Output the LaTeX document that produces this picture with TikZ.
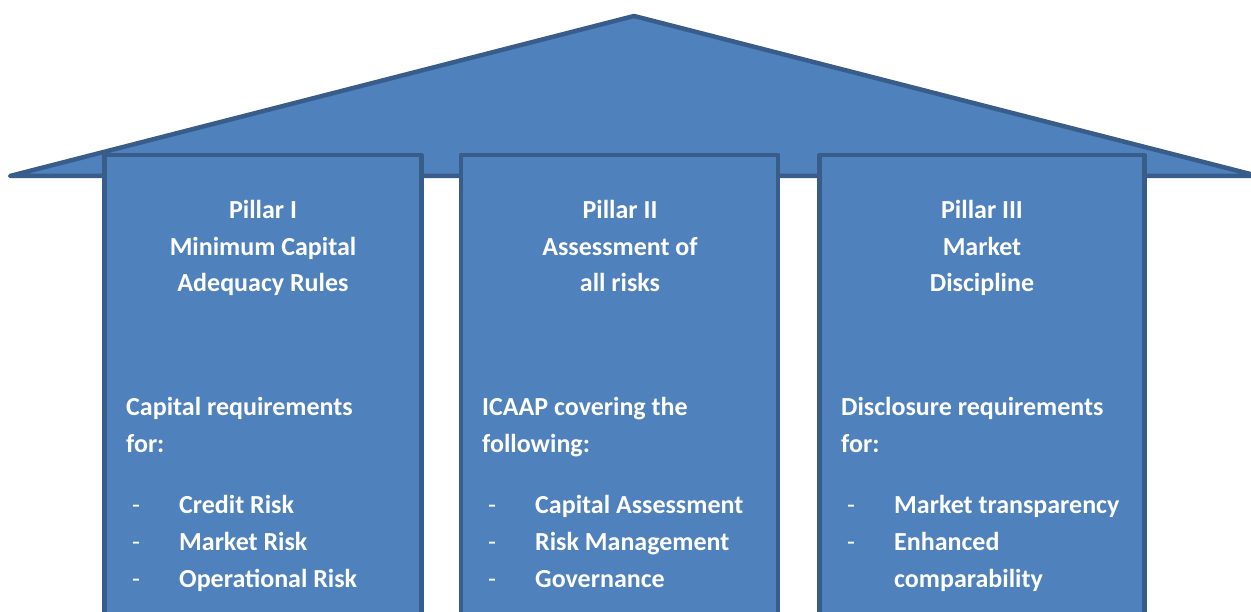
\documentclass[tikz,border=0pt]{standalone}
\usepackage{fontspec}
\setmainfont{Carlito}
\definecolor{pillarblue}{RGB}{79,129,189}
\definecolor{pillaredge}{RGB}{56,93,138}

\begin{document}
\begin{tikzpicture}[x=1pt,y=-1pt,
    every node/.style={text=white, inner sep=0pt, font=\bfseries\fontsize{26}{36.6}\selectfont},
    block/.style={draw=pillaredge, fill=pillarblue, line width=4.5pt, line join=round, line cap=round},
    heading/.style={anchor=base, align=center},
    body/.style={anchor=base west, align=left},
    dashes/.style={anchor=base west, align=left, font=\mdseries\fontsize{26}{36.6}\selectfont}]
    \useasboundingbox (0,0) rectangle (1251,612);
    \clip (0,0) rectangle (1251,612);
    % roof
    \draw[block] (10,176) -- (634,16) -- (1258,176) -- cycle;
    % pillars
    \draw[block] (104.5,155) rectangle (421.5,660);
    \draw[block] (461,155) rectangle (778,660);
    \draw[block] (819.5,155) rectangle (1144.5,660);
    % Pillar I
    \node[heading] (headone) at (263,292) {Pillar I\\Minimum Capital\\Adequacy Rules};
    \node[body] (bodyone) at (126,452) {Capital requirements\\for:};
    \node[dashes] (dashone) at (132,587) {-\\-\\-};
    \node[body] (itemsone) at (179,587) {Credit Risk\\Market Risk\\Operational Risk};
    % Pillar II
    \node[heading] (headtwo) at (620,292) {Pillar II\\Assessment of\\all risks};
    \node[body] (bodytwo) at (482,452) {ICAAP covering the\\following:};
    \node[dashes] (dashtwo) at (488,587) {-\\-\\-};
    \node[body] (itemstwo) at (535,587) {Capital Assessment\\Risk Management\\Governance};
    % Pillar III
    \node[heading] (headthree) at (982,292) {Pillar III\\Market\\Discipline};
    \node[body] (bodythree) at (841,452) {Disclosure requirements\\for:};
    \node[dashes] (dashthree) at (847,550.4) {-\\-};
    \node[body] (itemsthree) at (894,587) {Market transparency\\Enhanced\\comparability};
\end{tikzpicture}
\end{document}
